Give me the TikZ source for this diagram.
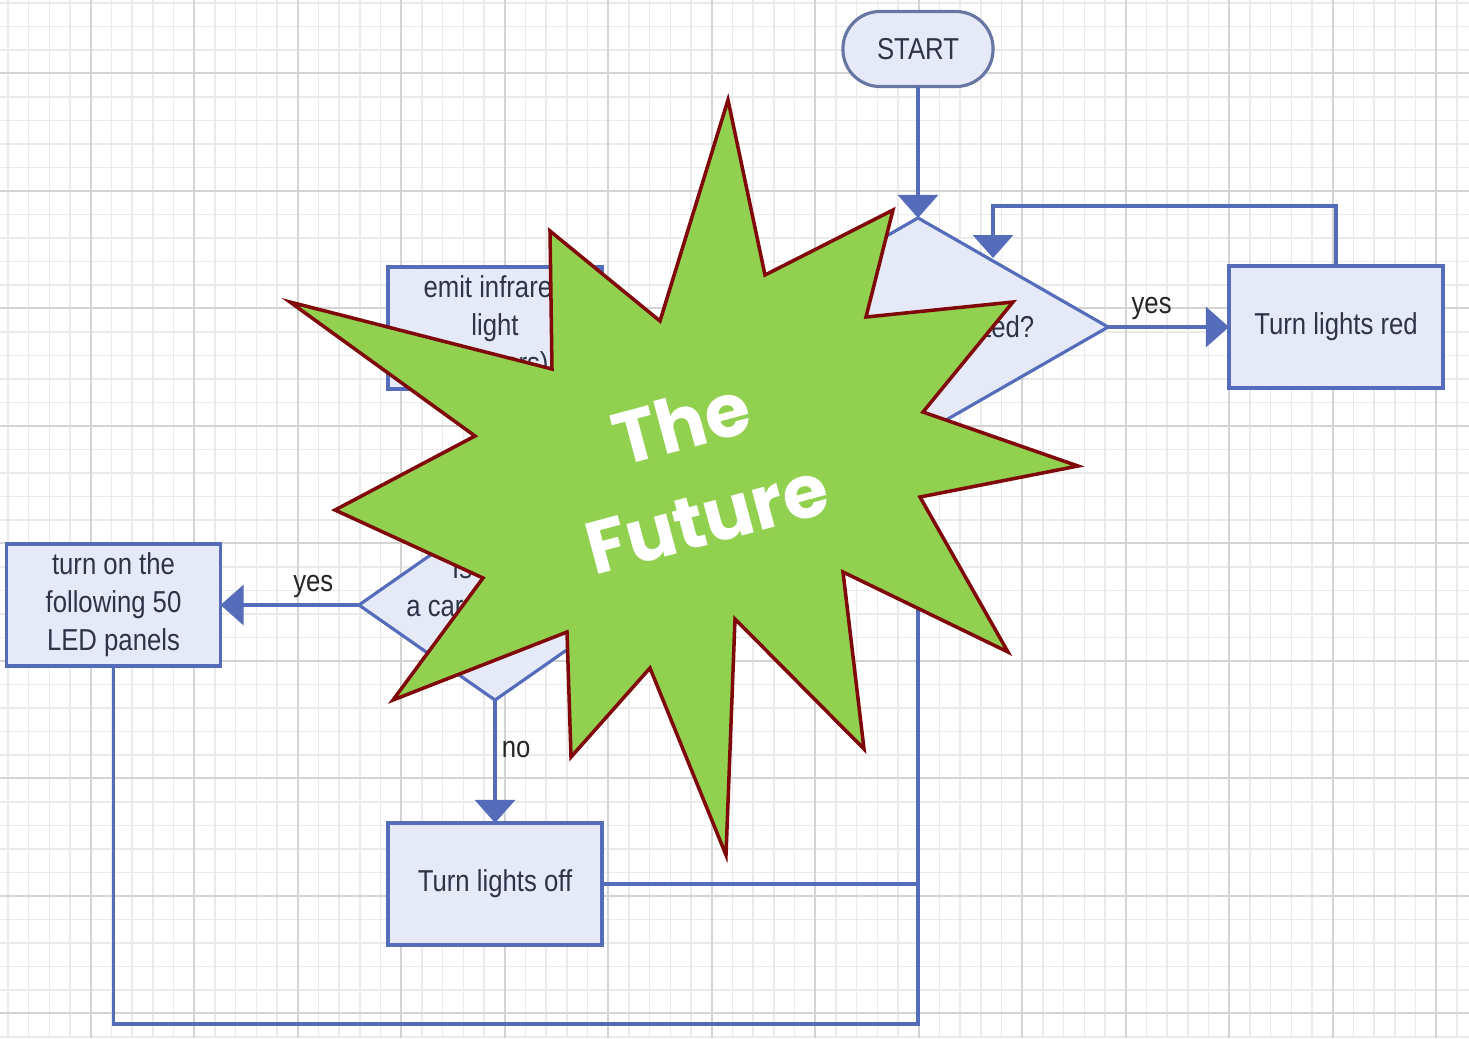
\documentclass[tikz,border=0pt]{standalone}
\usepackage{fontspec}
\setmainfont{Liberation Sans}[FakeStretch=0.85]
\newfontfamily\futurefont{Poppins}
\usetikzlibrary{arrows.meta,shapes.geometric}
\definecolor{flowblue}{RGB}{84,108,186}
\definecolor{flowfill}{RGB}{230,234,248}
\definecolor{flowtext}{RGB}{44,52,72}
\definecolor{startline}{RGB}{104,118,164}
\definecolor{gridminor}{RGB}{234,234,234}
\definecolor{gridmajor}{RGB}{212,212,212}
\definecolor{burstfill}{RGB}{146,208,80}
\definecolor{burstline}{RGB}{128,8,8}
\newcommand\chartsize{\fontsize{8.6pt}{10.8pt}\selectfont}
\tikzset{
  box/.style={rectangle,draw=flowblue,fill=flowfill,line width=0.9pt,minimum width=2.14cm,minimum height=1.22cm,align=center,text=flowtext,font=\chartsize,inner sep=0pt,outer sep=0pt},
  terminal/.style={box,draw=startline,rounded corners=3.7mm,minimum width=1.5cm,minimum height=0.75cm},
  decision/.style={diamond,draw=flowblue,fill=flowfill,line width=0.9pt,inner sep=0pt,outer sep=0pt},
  decisiontext/.style={align=center,text=flowtext,font=\chartsize,inner sep=0pt},
  link/.style={draw=flowblue,line width=0.9pt},
  flow/.style={link,-{Triangle[width=4mm,length=2.3mm]}},
  edgelabel/.style={font=\chartsize,text=black!85,inner sep=1.5pt},
  gridline/.style={gridminor,line width=0.4pt},
  gridbold/.style={gridmajor,line width=0.6pt},
  burst/.style={draw=burstline,fill=burstfill,line width=1pt,line join=miter},
}
\begin{document}
\begin{tikzpicture}[x=0.01cm,y=-0.01cm]
\useasboundingbox[fill=white](0,0)rectangle(1469,1038);
% grid paper
\foreach \i in {0,...,70}
  \draw[gridline]({7.9+20.7*\i},0)--({7.9+20.7*\i},1038);
\foreach \j in {0,...,44}
  \draw[gridline](0,{2.8+23.5*\j})--(1469,{2.8+23.5*\j});
\foreach \i in {0,...,13}
  \draw[gridbold]({90.7+103.5*\i},0)--({90.7+103.5*\i},1038);
\foreach \j in {0,...,8}
  \draw[gridbold](0,{73.3+117.5*\j})--(1469,{73.3+117.5*\j});
% flowchart
\node[terminal](start)at(918,49){START};
\node[decision,minimum width=3.8cm,minimum height=2.18cm](detect)at(918,327){};
\node[decisiontext](detecttext)at(932,327){Is a car detected?};
\node[box](red)at(1336,327){Turn lights red};
\node[box](emit)at(495,328){emit infrared\\light\\(sensors)};
\node[decision,minimum width=2.72cm,minimum height=1.9cm](carq)at(495,605){};
\node[decisiontext](carqtext)at(495,587){Is there\\a car detected?};
\node[box](led)at(113.5,605){turn on the\\following 50\\LED panels};
\node[box](off)at(495,884){Turn lights off};
\coordinate(looptop)at(993,206);
\coordinate(loopin)at(993,258);
\coordinate(bottomright)at(918,1024);
\draw[flow](start)--(detect);
\draw[flow](detect.east)--node[edgelabel,above,pos=0.36]{yes}(red.west);
\draw[flow](red.north)|-(looptop)--(loopin);
\draw[flow](detect.west)--node[edgelabel,above,pos=0.38]{no}(emit.east);
\draw[flow](emit)--(carq);
\draw[flow](carq.west)--node[edgelabel,above,pos=0.33]{yes}(led.east);
\draw[flow](carq.south)--node[edgelabel,right,pos=0.4]{no}(off.north);
\draw[link](off.east)--(off.east-|bottomright);
\draw[flow](led.south)|-(bottomright)--(detect.south);
% the star
\draw[burst](728,100)--(765,275)--(893,210)--(866,317)--(1013,302)--(923,412)
  --(1078,466)--(920,497)--(1008,652)--(843,572)--(864,749)--(735,619)
  --(726,855)--(650,668)--(571,757)--(567,632)--(393,700)--(483,578)
  --(335,510)--(475,436)--(290,302)--(552,369)--(550,231)--(660,321)--cycle;
\node[rotate=15,align=center,text=white,font=\futurefont\bfseries\fontsize{21pt}{28pt}\selectfont](future)at(694,470){The\\Future};
\end{tikzpicture}
\end{document}
